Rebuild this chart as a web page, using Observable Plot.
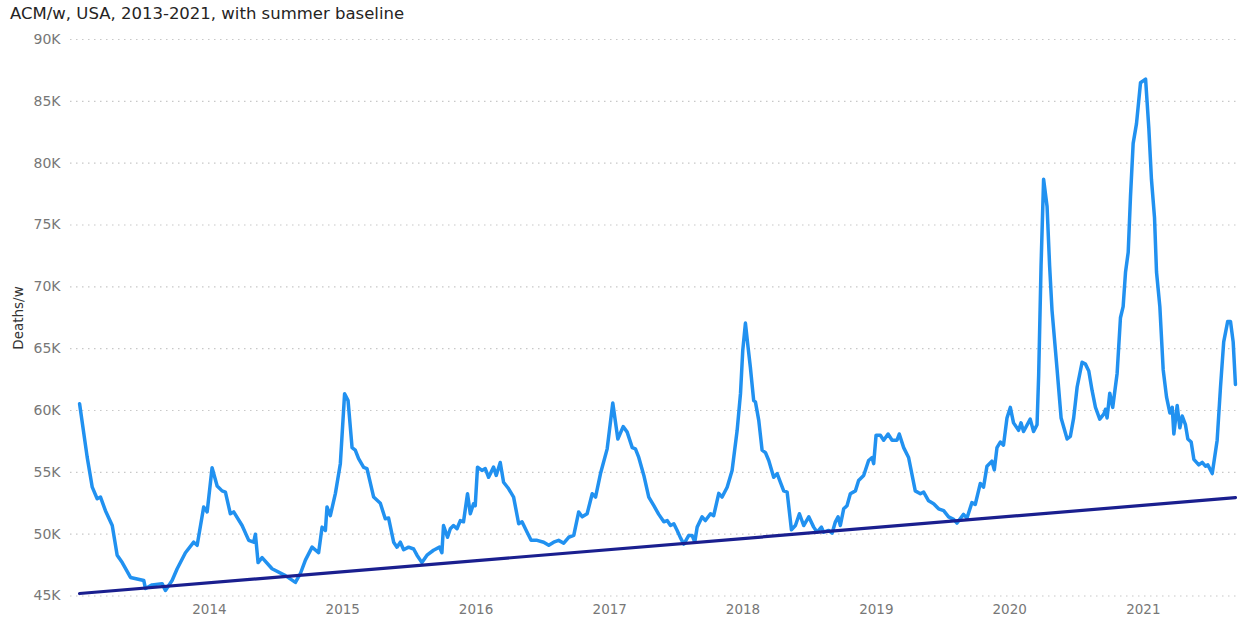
<!DOCTYPE html>
<html>
<head>
<meta charset="utf-8">
<script src="https://cdn.jsdelivr.net/npm/d3@7"></script>
<script src="https://cdn.jsdelivr.net/npm/@observablehq/plot@0.6"></script>
<style>
  html, body { margin: 0; padding: 0; background: #fff; }
  #title { font-family: "DejaVu Sans", sans-serif; font-size: 16.5px; color: #252423; height: 28px; line-height: 28px; padding-left: 10px; white-space: nowrap; }
  #chart svg { display: block; }
</style>
</head>
<body>
<div id="title">ACM/w, USA, 2013-2021, with summer baseline</div>
<div id="chart"></div>
<script>
// Decimal-year positions of the weekly points
const weekYear = [
2013.026,2013.083,2013.121,2013.158,2013.183,2013.220,2013.271,2013.308,2013.346,2013.408,
2013.508,2013.520,2013.570,2013.645,2013.670,2013.720,2013.758,2013.820,2013.882,2013.908,
2013.957,2013.983,2014.020,2014.058,2014.095,2014.120,2014.157,2014.182,2014.245,2014.295,
2014.332,2014.345,2014.365,2014.395,2014.470,2014.570,2014.645,2014.682,2014.720,2014.770,
2014.819,2014.845,2014.870,2014.882,2014.907,2014.945,2014.982,2015.014,2015.040,2015.070,
2015.094,2015.119,2015.157,2015.182,2015.232,2015.282,2015.319,2015.344,2015.382,2015.407,
2015.432,2015.457,2015.494,2015.532,2015.557,2015.594,2015.632,2015.681,2015.726,2015.744,
2015.756,2015.786,2015.807,2015.831,2015.857,2015.882,2015.906,2015.936,2015.957,2015.981,
2015.994,2016.011,2016.044,2016.069,2016.094,2016.131,2016.151,2016.181,2016.206,2016.244,
2016.281,2016.319,2016.344,2016.382,2016.412,2016.457,2016.506,2016.544,2016.581,2016.618,
2016.656,2016.693,2016.731,2016.768,2016.794,2016.831,2016.869,2016.894,2016.931,2016.981,
2017.023,2017.061,2017.101,2017.131,2017.169,2017.193,2017.218,2017.256,2017.293,2017.331,
2017.368,2017.406,2017.431,2017.456,2017.481,2017.506,2017.531,2017.556,2017.593,2017.618,
2017.638,2017.656,2017.693,2017.718,2017.756,2017.780,2017.818,2017.843,2017.881,2017.918,
2017.956,2017.981,2017.998,2018.018,2018.038,2018.055,2018.080,2018.093,2018.118,2018.143,
2018.168,2018.193,2018.230,2018.256,2018.280,2018.305,2018.331,2018.363,2018.393,2018.423,
2018.455,2018.493,2018.530,2018.556,2018.588,2018.605,2018.642,2018.668,2018.693,2018.713,
2018.730,2018.755,2018.780,2018.805,2018.843,2018.867,2018.905,2018.942,2018.968,2018.980,
2018.998,2019.030,2019.055,2019.088,2019.118,2019.155,2019.172,2019.205,2019.242,2019.292,
2019.330,2019.355,2019.392,2019.430,2019.467,2019.505,2019.542,2019.580,2019.605,2019.654,
2019.680,2019.717,2019.742,2019.780,2019.804,2019.830,2019.867,2019.885,2019.905,2019.930,
2019.954,2019.980,2020.005,2020.029,2020.067,2020.085,2020.104,2020.154,2020.179,2020.205,
2020.217,2020.235,2020.254,2020.280,2020.299,2020.317,2020.355,2020.385,2020.430,2020.454,
2020.479,2020.505,2020.542,2020.567,2020.592,2020.617,2020.642,2020.674,2020.704,2020.717,
2020.729,2020.749,2020.771,2020.804,2020.829,2020.849,2020.867,2020.887,2020.904,2020.924,
2020.949,2020.979,2021.017,2021.041,2021.061,2021.084,2021.099,2021.124,2021.149,2021.174,
2021.199,2021.217,2021.229,2021.254,2021.274,2021.292,2021.316,2021.334,2021.359,2021.379,
2021.416,2021.442,2021.466,2021.484,2021.517,2021.554,2021.579,2021.603,2021.633,2021.654,
2021.674,2021.691
];
// All-cause deaths per week, thousands
const deathsK = [
60.55,56.23,53.8,52.86,53.0,51.9,50.7,48.3,47.7,46.5,
46.25,45.6,45.9,46.0,45.45,46.25,47.2,48.5,49.35,49.1,
52.2,51.8,55.37,53.9,53.5,53.4,51.65,51.8,50.7,49.5,
49.35,50.0,47.7,48.1,47.2,46.65,46.1,46.8,47.9,48.95,
48.5,50.57,50.3,52.2,51.5,53.3,55.7,61.36,60.8,57.0,
56.8,56.1,55.4,55.3,53.0,52.5,51.25,51.3,49.35,48.95,
49.35,48.74,48.95,48.8,48.3,47.7,48.3,48.7,48.95,48.5,
50.7,49.75,50.44,50.7,50.44,51.1,51.0,53.27,51.65,52.46,
52.3,55.42,55.15,55.3,54.6,55.42,54.75,55.8,54.2,53.67,
53.0,50.84,51.0,50.16,49.5,49.5,49.35,49.1,49.35,49.5,
49.27,49.75,49.9,51.8,51.4,51.65,53.27,53.0,54.9,56.9,
60.6,57.7,58.7,58.25,57.0,56.9,56.2,54.75,53.0,52.3,
51.6,51.0,51.1,50.7,50.84,50.3,49.7,49.2,49.9,49.9,
49.35,50.57,51.4,51.1,51.65,51.5,53.3,53.0,53.8,55.15,
58.4,61.36,64.86,67.07,65.1,63.5,60.8,60.7,59.2,56.8,
56.6,55.96,54.6,54.9,54.2,53.5,53.4,50.36,50.7,51.65,
50.7,51.4,50.57,50.16,50.57,50.16,50.3,50.08,51.0,51.4,
50.7,52.05,52.3,53.27,53.5,54.34,54.75,55.96,56.2,55.7,
58.0,58.0,57.6,58.1,57.6,57.6,58.1,57.0,56.2,53.5,
53.27,53.4,52.7,52.46,52.05,51.9,51.4,51.2,50.9,51.6,
51.3,52.55,52.4,54.1,53.8,55.5,55.9,55.2,57.0,57.45,
57.2,59.4,60.25,59.0,58.4,59.0,58.3,59.3,58.3,58.85,
62.8,71.7,78.7,76.5,71.7,68.1,63.3,59.4,57.7,57.9,
59.4,61.9,63.9,63.75,63.2,61.6,60.25,59.3,59.7,60.1,
59.4,61.4,60.25,63.0,67.5,68.4,71.2,72.8,77.3,81.6,
83.2,86.5,86.8,82.9,78.7,75.6,71.2,68.4,63.3,61.1,
59.8,60.25,58.1,60.4,58.6,59.55,58.85,57.7,57.45,56.05,
55.6,55.8,55.5,55.6,54.9,57.6,61.9,65.55,67.2,67.2,
65.55,62.1
];
// Summer baseline (straight trend line) end points
const baselineYear = [2013.026, 2021.691];
const baselineK = [45.2, 52.95];
// Axis ticks
const yTicksK = [45, 50, 55, 60, 65, 70, 75, 80, 85, 90];
const xTickYears = [2014, 2015, 2016, 2017, 2018, 2019, 2020, 2021];

const decToDate = t => {
  const y = Math.floor(t);
  const s = Date.UTC(y, 0, 1), e = Date.UTC(y + 1, 0, 1);
  return new Date(s + (t - y) * (e - s));
};

const series = weekYear.map((t, i) => ({date: decToDate(t), v: deathsK[i]}));
const baseline = baselineYear.map((t, i) => ({date: decToDate(t), v: baselineK[i]}));
const xTicks = xTickYears.map(y => new Date(Date.UTC(y, 0, 1)));

const chart = Plot.plot({
  width: 1244,
  height: 593,
  marginLeft: 70,
  marginRight: 6,
  marginTop: 11,
  marginBottom: 25.5,
  style: {fontFamily: '"DejaVu Sans", sans-serif', fontSize: "14px", background: "#fff"},
  x: {type: "utc", domain: [decToDate(2012.958), decToDate(2021.714)]},
  y: {domain: [45, 90]},
  marks: [
    Plot.gridY(yTicksK, {stroke: "#c8c8c8", strokeOpacity: 1, strokeDasharray: "1.5,4.5", strokeWidth: 1.2}),
    Plot.axisY(yTicksK, {tickSize: 0, tickPadding: 10, tickFormat: d => d + "K", label: null, fill: "#777", fontSize: 14}),
    Plot.axisX(xTicks, {tickSize: 0, tickPadding: 8, tickFormat: d3.utcFormat("%Y"), label: null, fill: "#777", fontSize: 13.5}),
    Plot.text(["Deaths/w"], {frameAnchor: "left", dx: -52, dy: 32, rotate: -90, fill: "#333", fontSize: 13.5}),
    Plot.line(series, {x: "date", y: "v", stroke: "#2191f0", strokeWidth: 3.5, strokeLinejoin: "round", strokeLinecap: "round"}),
    Plot.line(baseline, {x: "date", y: "v", stroke: "#1a1f8f", strokeWidth: 3.2, strokeLinecap: "round"})
  ]
});
document.getElementById("chart").appendChild(chart);
</script>
</body>
</html>
